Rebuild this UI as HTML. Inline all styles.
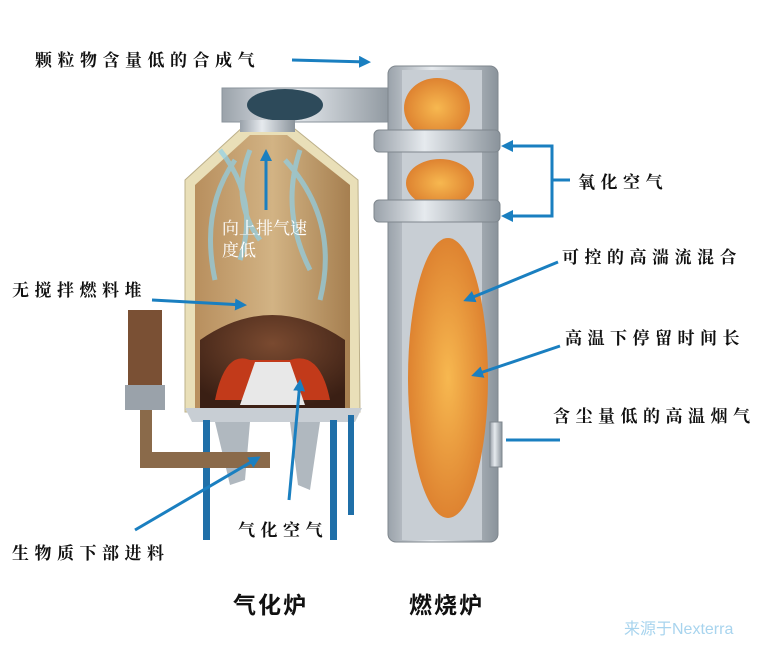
<!DOCTYPE html>
<html><head><meta charset="utf-8"><style>
body{margin:0;background:#fff;}
svg{display:block;}
text{font-family:"Liberation Serif","Noto Serif CJK SC",serif;}
</style></head><body>
<svg width="770" height="658" viewBox="0 0 770 658" xmlns="http://www.w3.org/2000/svg">
<defs>
<marker id="ah" markerWidth="4" markerHeight="4" refX="3" refY="2" orient="auto" markerUnits="strokeWidth"><path d="M0,0 L4,2 L0,4 Z" fill="#1a7fc0"/></marker>
<linearGradient id="steel" x1="0" x2="1"><stop offset="0" stop-color="#9aa2aa"/><stop offset="0.4" stop-color="#e6eaee"/><stop offset="1" stop-color="#8a939b"/></linearGradient>
<linearGradient id="brick" x1="0" x2="1"><stop offset="0" stop-color="#b88f5e"/><stop offset="0.5" stop-color="#d2b384"/><stop offset="1" stop-color="#a67f50"/></linearGradient>
<radialGradient id="fire" cx="0.5" cy="0.5" r="0.6"><stop offset="0" stop-color="#f7b850"/><stop offset="1" stop-color="#d9782a"/></radialGradient>
<radialGradient id="pile" cx="0.5" cy="0.3" r="0.7"><stop offset="0" stop-color="#7a4a30"/><stop offset="1" stop-color="#3a1f14"/></radialGradient>
</defs>

<rect x="222" y="88" width="175" height="34" fill="url(#steel)" stroke="#8a939b"/>
<ellipse cx="285" cy="105" rx="38" ry="16" fill="#2d4a5a"/>
<path d="M245,125 L290,125 L358,180 L360,412 L185,412 L185,180 Z" fill="#e9dfb8" stroke="#bcb08a"/>
<path d="M250,135 L287,135 L350,185 L350,410 L195,410 L195,185 Z" fill="url(#brick)"/>
<path d="M220,150 Q260,200 240,260 M300,150 Q280,210 310,270 M235,160 Q200,210 215,280 M285,160 Q340,220 320,300 M250,150 Q230,200 260,240" stroke="#8fd0e8" stroke-width="5" fill="none" opacity="0.7"/>
<rect x="240" y="120" width="55" height="12" fill="url(#steel)"/>
<path d="M200,410 L200,340 Q272,290 345,340 L345,410 Z" fill="url(#pile)"/>
<path d="M215,400 Q225,350 250,360 L290,360 Q320,350 330,400 Z" fill="#c23a1a"/>
<path d="M240,405 L255,362 L290,362 L305,405 Z" fill="#e8e8e8"/>
<path d="M185,408 L362,408 L355,422 L192,422 Z" fill="#c8ced4"/>
<path d="M215,422 L250,422 L245,480 L230,485 Z M290,422 L320,422 L310,490 L298,485 Z" fill="#b0b8bf"/>
<rect x="203" y="420" width="7" height="120" fill="#1f6fa8"/>
<rect x="330" y="420" width="7" height="120" fill="#1f6fa8"/>
<rect x="348" y="415" width="6" height="100" fill="#1f6fa8"/>
<rect x="128" y="310" width="34" height="100" fill="#7a5034"/>
<rect x="125" y="385" width="40" height="25" fill="#9aa2aa"/>
<rect x="140" y="410" width="12" height="48" fill="#8a6a4a"/>
<rect x="140" y="452" width="130" height="16" fill="#8a6a4a"/>
<rect x="388" y="66" width="110" height="476" rx="8" fill="url(#steel)" stroke="#7f878e"/>
<rect x="402" y="70" width="80" height="470" fill="#c8ced4"/>
<ellipse cx="437" cy="108" rx="33" ry="30" fill="url(#fire)"/>
<ellipse cx="440" cy="183" rx="34" ry="24" fill="url(#fire)"/>
<ellipse cx="448" cy="378" rx="40" ry="140" fill="url(#fire)"/>
<rect x="374" y="130" width="126" height="22" rx="5" fill="url(#steel)" stroke="#7f878e"/>
<rect x="374" y="200" width="126" height="22" rx="5" fill="url(#steel)" stroke="#7f878e"/>
<rect x="490" y="422" width="12" height="45" fill="url(#steel)" stroke="#7f878e"/>

<g stroke="#1a7fc0" stroke-width="3" fill="none">
<line x1="292" y1="60" x2="368" y2="62" marker-end="url(#ah)"/>
<polyline points="518,146 552,146 552,216 518,216"/>
<line x1="552" y1="146" x2="504" y2="146" marker-end="url(#ah)"/>
<line x1="552" y1="216" x2="504" y2="216" marker-end="url(#ah)"/>
<line x1="552" y1="180" x2="570" y2="180"/>
<line x1="558" y1="262" x2="466" y2="300" marker-end="url(#ah)"/>
<line x1="560" y1="346" x2="474" y2="375" marker-end="url(#ah)"/>
<line x1="560" y1="440" x2="506" y2="440"/>
<line x1="152" y1="300" x2="244" y2="305" marker-end="url(#ah)"/>
<line x1="135" y1="530" x2="258" y2="458" marker-end="url(#ah)"/>
<line x1="289" y1="500" x2="300" y2="382" marker-end="url(#ah)"/>
<line x1="266" y1="210" x2="266" y2="152" marker-end="url(#ah)"/>
</g>

<g font-size="17" fill="#111" letter-spacing="5.5" font-weight="bold">
<text x="35" y="66">颗粒物含量低的合成气</text>
<text x="578" y="188">氧化空气</text>
<text x="562" y="263">可控的高湍流混合</text>
<text x="565" y="344">高温下停留时间长</text>
<text x="553" y="422">含尘量低的高温烟气</text>
<text x="12" y="296">无搅拌燃料堆</text>
<text x="12" y="559">生物质下部进料</text>
<text x="238" y="536">气化空气</text>
</g>
<g font-size="17" fill="#fff" style="font-family:'Liberation Sans','Noto Sans CJK SC',sans-serif">
<text x="222" y="234">向上排气速</text>
<text x="222" y="256">度低</text>
</g>
<text x="233" y="613" font-size="23" font-weight="bold" fill="#111" letter-spacing="2" style="font-family:'Liberation Sans','Noto Sans CJK SC',sans-serif">气化炉</text>
<text x="409" y="613" font-size="23" font-weight="bold" fill="#111" letter-spacing="2" style="font-family:'Liberation Sans','Noto Sans CJK SC',sans-serif">燃烧炉</text>
<text x="624" y="634" font-size="16" fill="#a8d4ee" style="font-family:'Liberation Sans','Noto Sans CJK SC',sans-serif">来源于Nexterra</text>
</svg>
</body></html>
